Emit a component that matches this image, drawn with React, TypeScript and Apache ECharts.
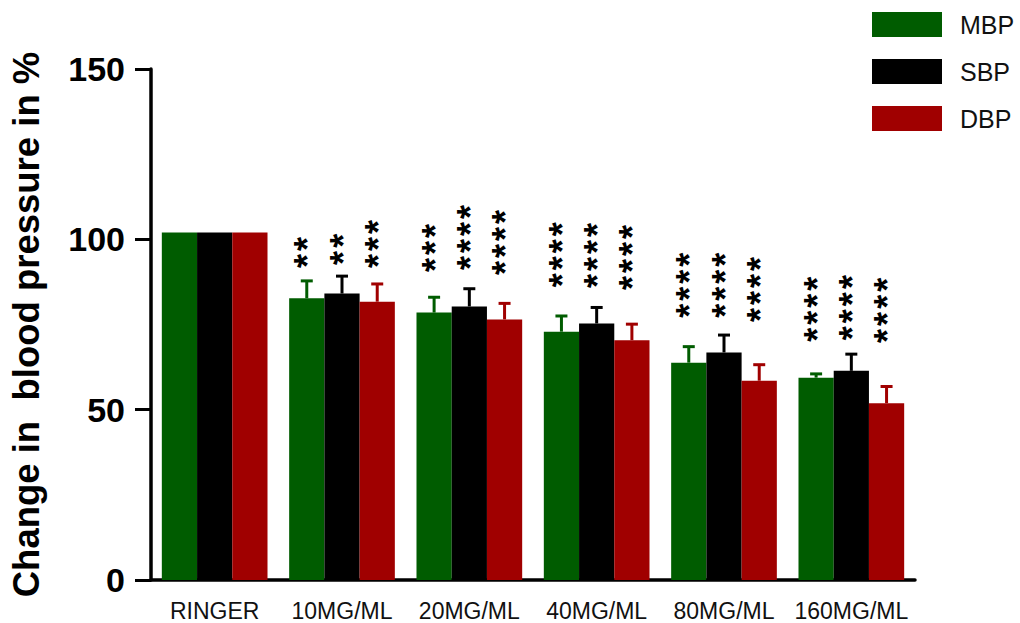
import React, { useEffect, useRef } from "react";
import * as echarts from "echarts";

const categories = ["RINGER", "10MG/ML", "20MG/ML", "40MG/ML", "80MG/ML", "160MG/ML"];
const seriesNames = ["MBP", "SBP", "DBP"];
const colors = ["#005c00", "#000000", "#a00000"];

const mbp = [102, 82.7, 78.5, 72.9, 63.8, 59.4];
const sbp = [102, 84.1, 80.3, 75.3, 66.8, 61.4];
const dbp = [102, 81.7, 76.5, 70.4, 58.5, 51.9];

const mbpErr = [0, 5.1, 4.5, 4.6, 4.7, 1.1];
const sbpErr = [0, 5.1, 5.2, 4.7, 5.1, 4.9];
const dbpErr = [0, 5.2, 4.7, 4.7, 4.7, 4.9];

const mbpStars = ["", "**", "***", "****", "****", "****"];
const sbpStars = ["", "**", "****", "****", "****", "****"];
const dbpStars = ["", "***", "****", "****", "****", "****"];

// value at which the bottom of each star column sits
const mbpStarBase = [0, 91.6, 90.4, 85.9, 77.0, 69.9];
const sbpStarBase = [0, 92.5, 91.0, 85.7, 77.0, 70.4];
const dbpStarBase = [0, 91.6, 89.5, 85.1, 75.7, 69.6];

const yTicks = { min: 0, max: 150, interval: 50 };

const FONT = "Liberation Sans, Arial, sans-serif";
const CAT_GAP = 0.17;
const STAR_SIZE = 36;

export default function App() {
  const ref = useRef<HTMLDivElement>(null);

  useEffect(() => {
    if (!ref.current) return;
    const chart = echarts.init(ref.current, null, { renderer: "svg" });
    const values = [mbp, sbp, dbp];
    const errs = [mbpErr, sbpErr, dbpErr];
    const stars = [mbpStars, sbpStars, dbpStars];
    const bases = [mbpStarBase, sbpStarBase, dbpStarBase];

    const barSeries = values.map((vals, k) => ({
      name: seriesNames[k],
      type: "bar",
      data: vals,
      barGap: "0%",
      barCategoryGap: `${CAT_GAP * 100}%`,
      itemStyle: { color: colors[k] },
      z: 2,
    }));

    const errSeries = values.map((vals, k) => ({
      name: seriesNames[k] + " err",
      type: "custom",
      z: 5,
      data: vals.map((v, i) => [i, v, errs[k][i], bases[k][i]]),
      renderItem: (params: any, api: any) => {
        const ci = api.value(0);
        const v = api.value(1);
        const e = api.value(2);
        const base = api.value(3);
        const band = api.size([1, 0])[0];
        const bw = (band * (1 - CAT_GAP)) / 3;
        const cx = api.coord([ci, 0])[0] + (k - 1) * bw;
        const top = api.coord([ci, v])[1];
        const capY = api.coord([ci, v + e])[1];
        const children: any[] = [];
        if (e > 0) {
          children.push({
            type: "line",
            shape: { x1: cx, y1: top, x2: cx, y2: capY },
            style: { stroke: colors[k], lineWidth: 3 },
          });
          children.push({
            type: "line",
            shape: { x1: cx - 6, y1: capY, x2: cx + 6, y2: capY },
            style: { stroke: colors[k], lineWidth: 3 },
          });
        }
        const s = stars[k][params.dataIndex];
        if (s) {
          const sy = api.coord([ci, base])[1];
          children.push({
            type: "text",
            x: cx + STAR_SIZE * 0.03,
            y: sy,
            rotation: Math.PI / 2,
            style: {
              text: s.split("").join("\u200A"),
              x: 0,
              y: 0,
              align: "left",
              verticalAlign: "middle",
              fontFamily: FONT,
              fontSize: STAR_SIZE,
              fontWeight: "bold",
              fill: "#000",
            },
          });
        }
        return { type: "group", children };
      },
    }));

    chart.setOption({
      animation: false,
      backgroundColor: "#fff",
      grid: { left: 147, right: 105, top: 69, bottom: 43, containLabel: false },
      legend: {
        data: seriesNames,
        orient: "vertical",
        left: 867,
        top: 7,
        icon: "rect",
        itemWidth: 70,
        itemHeight: 25,
        itemGap: 22,
        textStyle: { fontFamily: FONT, fontSize: 25, color: "#111", padding: [0, 0, 0, 13] },
        selectedMode: false,
      },
      xAxis: {
        type: "category",
        data: categories,
        axisLine: { lineStyle: { color: "#000", width: 3.5 } },
        axisTick: { alignWithLabel: true, length: 10, lineStyle: { width: 3, color: "#000" } },
        axisLabel: { interval: 0, fontFamily: FONT, fontSize: 23, color: "#111", margin: 19 },
      },
      yAxis: {
        type: "value",
        min: yTicks.min,
        max: yTicks.max,
        interval: yTicks.interval,
        name: "Change in  blood pressure in %",
        nameLocation: "middle",
        nameGap: 106,
        nameTextStyle: { fontFamily: FONT, fontSize: 36.5, fontWeight: "bold", color: "#000" },
        axisLine: { show: true, lineStyle: { color: "#000", width: 3.5 } },
        axisTick: { show: true, length: 16, lineStyle: { width: 3, color: "#000" } },
        axisLabel: { fontFamily: FONT, fontSize: 34, fontWeight: "bold", color: "#000", margin: 26 },
        splitLine: { show: false },
      },
      series: [...barSeries, ...errSeries],
    });
    return () => chart.dispose();
  }, []);

  return (
    <div
      ref={ref}
      style={{ position: "fixed", left: 0, top: 0, width: 1020, height: 623, background: "#fff" }}
    />
  );
}
